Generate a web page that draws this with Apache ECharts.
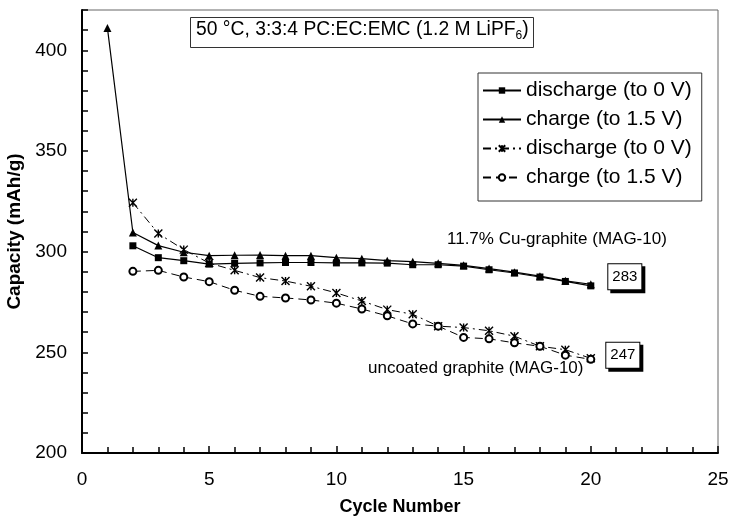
<!DOCTYPE html>
<html>
<head>
<meta charset="utf-8">
<script src="https://cdn.jsdelivr.net/npm/echarts@6/dist/echarts.min.js"></script>
<style>
  html, body { margin: 0; padding: 0; background: #fff; }
  #chart { width: 734px; height: 516px; }
</style>
</head>
<body>
<div id="chart"></div>
<script>
// Cycle numbers
const cycles = [1, 2, 3, 4, 5, 6, 7, 8, 9, 10, 11, 12, 13, 14, 15, 16, 17, 18, 19, 20];

// 11.7% Cu-coated graphite (MAG-10), mAh/g
const cuCharge = [411, 309.5, 303, 299.7, 298, 298.2, 298.3, 298, 298, 297, 296.5, 295.5, 295, 294.2, 293.2, 291.6, 289.8, 287.8, 285.5, 283.8];
const cuDischarge = [302.9, 297, 295.5, 293.8, 294.2, 294.4, 294.6, 294.6, 294.4, 294.4, 294.3, 293.5, 293.5, 292.8, 291, 289.4, 287.4, 285.2, 283]; // from cycle 2

// uncoated graphite (MAG-10), mAh/g, from cycle 2
const bareDischarge = [324.3, 309, 301, 294.3, 290.7, 287.1, 285.4, 282.8, 279.5, 275.5, 271.2, 268.9, 263, 262.3, 260.7, 258, 253, 251.3, 247];
const bareCharge = [290.2, 290.7, 287.4, 285.1, 280.8, 277.8, 277, 276, 274.4, 271.5, 268.1, 264.1, 263, 257.4, 256.7, 254.7, 253, 248.6, 246.5];

// Tick labels
const xTickLabels = [0, 5, 10, 15, 20, 25];
const yTickLabels = [200, 250, 300, 350, 400];

const legendText = {
  cuDis: 'discharge (to 0 V)',
  cuChg: 'charge (to 1.5 V)',
  bareDis: 'discharge (to 0 V)',
  bareChg: 'charge (to 1.5 V)'
};

const FONT = '"Liberation Sans", Arial, sans-serif';

function pairs(values, firstCycle) {
  const start = cycles.indexOf(firstCycle);
  return values.map((v, i) => [cycles[start + i], v]);
}

// boxed value tag on the final cycle point
function tagLast(points, distance, offset) {
  const out = points.map(p => p);
  const last = out.length - 1;
  out[last] = {
    value: out[last],
    label: {
      show: true,
      position: 'right',
      distance: distance,
      offset: offset,
      formatter: p => String(p.value[1]),
      color: '#000',
      fontFamily: FONT,
      fontSize: 15,
      lineHeight: 16,
      backgroundColor: '#fff',
      borderColor: '#000',
      borderWidth: 1,
      padding: [5, 4, 4, 4],
      shadowColor: '#000',
      shadowBlur: 0,
      shadowOffsetX: 3,
      shadowOffsetY: 3
    }
  };
  return out;
}

const chart = echarts.init(document.getElementById('chart'), null, { renderer: 'canvas' });

chart.setOption({
  animation: false,
  backgroundColor: '#fff',
  grid: {
    left: 82, right: 16, top: 10, bottom: 63,
    outerBoundsMode: 'none',
    containLabel: false,
    show: true, borderColor: '#666', borderWidth: 1, backgroundColor: 'transparent'
  },
  xAxis: {
    type: 'value',
    min: 0, max: 25, interval: 5,
    name: 'Cycle Number',
    nameLocation: 'middle',
    nameGap: 45,
    nameTextStyle: { fontFamily: FONT, fontSize: 18, fontWeight: 'bold', color: '#000' },
    axisLine: { show: true, lineStyle: { color: '#000', width: 2 } },
    axisTick: { show: true, inside: true, length: 7, lineStyle: { color: '#000', width: 1.5 } },
    minorTick: { show: true, splitNumber: 5, length: 6, lineStyle: { color: '#000', width: 1.5 } },
    splitLine: { show: false },
    minorSplitLine: { show: false },
    axisLabel: {
      margin: 17,
      color: '#000', fontFamily: FONT, fontSize: 19,
      formatter: v => (xTickLabels.indexOf(v) >= 0 ? String(v) : '')
    }
  },
  yAxis: {
    type: 'value',
    min: 200, max: 420, interval: 10,
    name: 'Capacity (mAh/g)',
    nameLocation: 'middle',
    nameGap: 52,
    nameTextStyle: { fontFamily: FONT, fontSize: 19, fontWeight: 'bold', color: '#000' },
    axisLine: { show: true, lineStyle: { color: '#000', width: 2 } },
    axisTick: { show: true, inside: true, length: 6, lineStyle: { color: '#000', width: 1.5 } },
    splitLine: { show: false },
    axisLabel: {
      margin: 15,
      color: '#000', fontFamily: FONT, fontSize: 19,
      formatter: v => (yTickLabels.indexOf(v) >= 0 ? String(v) : '')
    }
  },
  legend: {
    orient: 'vertical',
    left: 478, top: 73,
    padding: [7, 10, 13, 4],
    itemWidth: 38, itemHeight: 8, itemGap: 8,
    borderColor: '#333', borderWidth: 1,
    backgroundColor: '#fff',
    selectedMode: false,
    textStyle: { fontFamily: FONT, fontSize: 21, lineHeight: 21, color: '#000' },
    formatter: name => legendText[name],
    data: ['cuDis', 'cuChg', 'bareDis', 'bareChg']
  },
  graphic: [
    {
      type: 'rect', left: 190, top: 17, z: 10,
      shape: { width: 343, height: 30 },
      style: { fill: '#fff', stroke: '#333', lineWidth: 1 }
    },
    {
      type: 'text', left: 196, top: 20, z: 11,
      style: {
        text: '{a|50 °C, 3:3:4 PC:EC:EMC (1.2 M LiPF}{s|6}{a|)}',
        rich: {
          a: { fontFamily: FONT, fontSize: 19.3, lineHeight: 24, fill: '#000' },
          s: { fontFamily: FONT, fontSize: 12, lineHeight: 24, verticalAlign: 'bottom', fill: '#000' }
        }
      }
    },
    {
      type: 'text', left: 447, top: 231, z: 11,
      style: { text: '11.7% Cu-graphite (MAG-10)', fontFamily: FONT, fontSize: 17, fill: '#000' }
    },
    {
      type: 'text', left: 368, top: 360, z: 11,
      style: { text: 'uncoated graphite (MAG-10)', fontFamily: FONT, fontSize: 17, fill: '#000' }
    }
  ],
  series: [
    {
      name: 'cuDis', type: 'line',
      data: tagLast(pairs(cuDischarge, 2), 14, [0, -9]),
      symbol: 'rect', symbolSize: 7,
      itemStyle: { color: '#000' },
      lineStyle: { color: '#000', width: 1.2, type: 'solid' },
      z: 3
    },
    {
      name: 'cuChg', type: 'line',
      data: pairs(cuCharge, 1),
      symbol: 'triangle', symbolSize: [8, 8],
      itemStyle: { color: '#000' },
      lineStyle: { color: '#000', width: 1.2, type: 'solid' },
      z: 3
    },
    {
      name: 'bareDis', type: 'line',
      data: tagLast(pairs(bareDischarge, 2), 9, [0, -3]),
      symbol: 'path://M0,0L10,10M10,0L0,10M5,0L5,10', symbolSize: 8,
      itemStyle: { color: 'none', borderColor: '#000', borderWidth: 1.4 },
      lineStyle: { color: '#000', width: 1, type: [8, 4, 2, 4] },
      z: 2
    },
    {
      name: 'bareChg', type: 'line',
      data: pairs(bareCharge, 2),
      symbol: 'emptyCircle', symbolSize: 7,
      itemStyle: { color: '#000', borderColor: '#000', borderWidth: 1 },
      lineStyle: { color: '#000', width: 1, type: [8, 5] },
      z: 2
    }
  ]
});
</script>
</body>
</html>
